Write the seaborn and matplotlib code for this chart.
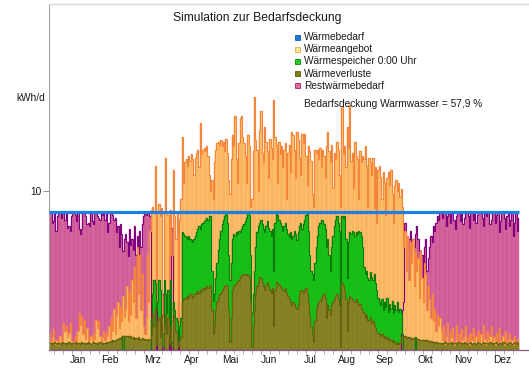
import numpy as np
import pandas as pd
import matplotlib
matplotlib.use("Agg")
import matplotlib.pyplot as plt
import seaborn as sns
from matplotlib.patches import Rectangle

# ---------------- data ----------------
months = ["Jan", "Feb", "Mrz", "Apr", "Mai", "Jun", "Jul", "Aug", "Sep", "Okt", "Nov", "Dez"]
month_label_day = [22, 47, 80, 110, 140, 170, 202, 231, 260, 292, 321, 351]
waermebedarf = 8.68  # kWh/d, constant daily demand
deckung_text = "Bedarfsdeckung Warmwasser = 57,9 %"

# Wärmeangebot (kWh/d), per month
angebot_jan = [1.1,0.5,0.8,1.3,0.4,0.6,0.3,0.5,0.9,0.4,0.6,1.7,1.2,1.5,0.8,1.1,1.7,0.6,0.4,0.5,0.9,0.3,1.2,2.3,1.6,2.1,1.0,1.9,0.7,1.4,0.5]
angebot_feb = [0.6,0.9,0.4,1.0,0.7,1.9,1.4,1.8,0.9,0.5,0.8,1.2,0.6,1.1,0.9,1.5,0.7,2.0,1.2,2.6,1.0,2.2,3.0,1.4,2.7,1.8,3.4,2.1]
angebot_mar = [2.5,4.0,1.8,3.6,2.2,4.4,3.0,5.2,2.0,6.5,3.5,6.0,2.5,4.8,1.5,1.0,2.0,6.0,3.0,7.5,8.8,9.0,8.6,11.6,3.0,8.7,9.2,8.4,8.9,2.0,8.6]
angebot_apr = [12.1,8.7,8.5,2.5,8.8,6.0,11.3,8.4,7.0,8.6,1.5,8.2,9.5,13.4,10.5,11.8,12.0,11.6,12.2,11.9,12.3,12.0,11.0,12.1,12.4,12.6,11.5,14.3,12.3,12.6]
angebot_mai = [12.7,12.5,12.8,12.2,11.0,10.0,10.7,9.5,11.8,12.6,13.0,13.1,12.9,13.2,12.8,13.1,12.5,13.3,12.4,10.7,9.8,12.0,13.5,12.8,14.7,12.0,10.5,13.0,14.6,14.7,13.4]
angebot_jun = [13.0,12.2,10.5,13.5,12.8,9.0,9.5,12.5,15.9,13.2,12.6,10.0,13.8,15.0,12.4,11.8,14.0,13.1,12.5,10.8,13.3,12.7,12.0,15.7,13.4,12.9,10.5,13.1,12.3,12.8]
angebot_jul = [11.5,12.6,13.0,9.5,12.4,12.9,11.2,13.7,13.5,12.6,10.8,13.7,13.2,12.1,11.0,13.6,13.0,13.6,12.2,10.4,12.8,12.5,11.9,9.8,9.0,12.6,12.4,12.6,12.0,12.7,11.5]
angebot_aug = [12.6,12.2,10.9,12.8,13.7,12.5,11.8,12.9,10.2,12.4,12.0,13.1,12.6,11.0,9.0,15.3,12.3,12.8,11.5,14.0,12.7,15.4,11.9,12.4,10.2,13.1,12.2,12.0,9.5,12.5,11.8]
angebot_sep = [12.2,12.0,12.8,11.6,9.0,12.1,11.8,11.0,12.1,8.9,11.5,8.0,11.3,11.6,10.9,9.5,11.2,10.5,8.5,10.8,11.2,10.4,11.3,9.8,8.0,10.3,10.7,10.0,10.5,9.6]
angebot_okt = [10.1,9.0,6.5,7.5,5.0,7.2,4.4,6.8,5.5,7.0,4.0,6.2,5.0,5.8,3.3,6.3,4.5,3.0,5.5,4.8,2.5,4.0,3.2,2.0,3.5,1.8,2.6,1.2,2.2,1.5,2.0]
angebot_nov = [1.2,0.6,1.5,0.4,0.9,1.7,0.5,1.1,0.8,1.4,0.3,0.7,1.6,0.5,1.0,0.4,1.3,0.6,0.9,1.5,0.4,0.8,0.3,1.1,0.6,1.4,0.5,0.9,0.4,1.2]
angebot_dez = [0.5,1.0,0.4,1.6,0.7,0.3,1.2,0.6,0.9,1.5,0.4,0.8,0.3,1.1,0.5,1.4,0.6,0.4,0.9,0.3,1.2,0.5,0.7,1.0,0.4,0.6,0.3,0.9,0.5,0.4,0.7]

# Restwärmebedarf (kWh/d)
rest_jan = [8.6,8.6,8.0,8.1,8.6,7.5,8.4,8.6,8.6,8.3,8.6,8.6,8.2,8.6,7.7,7.8,7.5,8.4,8.6,8.6,8.5,8.1,8.6,7.6,7.3,7.6,8.6,8.6,8.4,7.9,8.0]
rest_feb = [7.8,8.6,8.1,7.9,8.6,8.6,8.4,8.3,8.2,8.6,8.5,8.6,8.2,8.6,7.4,8.0,8.6,8.6,8.5,8.2,8.3,7.4,7.8,6.5,7.9,7.3,6.2,7.0]
rest_mar = [7.3,6.8,5.9,7.6,6.6,7.0,6.3,7.8,6.0,7.2,5.2,7.5,6.5,7.9,8.4,8.6,8.5,8.6,8.6,8.4,0,0,0,0,4.4,0,0,0,0,3.5,0]
rest_apr = [0,0,0,4.2,0,7.7,0,0,0,0,3.0,0,0,0,0,0,0,0,0,0,0,0,0,0,0,0,0,0,0,0]
rest_mai = [0] * 31
rest_jun = [0] * 30
rest_jul = [0] * 31
rest_aug = [0] * 31
rest_sep = [0] * 30
rest_okt = [1.0,2.5,3.0,8.0,7.2,6.0,7.0,7.5,6.8,7.0,6.5,7.3,7.8,7.0,6.2,5.5,6.0,4.4,6.5,7.0,5.0,5.8,6.5,7.2,6.8,7.8,7.5,8.0,8.4,8.2,8.6]
rest_nov = [8.6,8.3,8.6,8.6,7.8,8.4,8.6,8.0,8.6,8.6,8.2,7.6,8.4,8.6,8.6,8.1,8.6,7.9,8.3,8.6,8.6,8.4,7.7,8.6,8.6,8.2,8.6,8.0,8.5,8.6]
rest_dez = [8.6,8.6,8.3,7.8,8.6,8.4,8.6,8.6,7.9,8.2,8.6,8.6,8.0,8.5,8.6,7.4,8.1,8.6,8.6,8.3,7.6,8.4,8.6,7.8,8.2,8.6,7.2,8.0,8.6,7.5,8.3]

# Wärmespeicher 0:00 Uhr (kWh)
speicher_jan = [0] * 31
speicher_feb = [0]*26 + [0.9, 0]
speicher_mar = [0]*20 + [2.0,3.5,4.4,4.2,2.5,3.0,4.4,3.8,1.5,1.0,4.4]
speicher_apr = [3.5,2.3,3.8,1.0,4.4,0.5,3.0,2.5,2.0,1.8,0.5,1.5,2.0,7.4,7.3,7.2,7.1,7.0,7.2,7.0,6.9,6.8,7.0,7.2,7.4,7.6,7.8,7.6,7.9,8.0]
speicher_mai = [8.1,8.2,8.3,8.2,8.4,8.4,5.0,3.1,3.5,4.5,5.5,6.3,7.0,7.5,7.9,8.2,8.4,8.6,8.0,6.0,4.4,5.5,7.0,7.3,7.2,7.4,7.3,7.5,7.4,7.6,7.8]
speicher_jun = [7.9,8.1,8.3,8.6,8.5,6.0,2.3,3.5,5.0,6.5,7.4,7.8,8.0,8.2,7.9,7.6,7.4,7.8,8.1,7.7,7.5,7.2,7.6,5.0,8.0,8.7,8.5,8.2,8.0,7.8]
speicher_jul = [7.5,7.8,8.0,7.6,7.3,7.1,7.4,7.0,7.2,7.5,7.3,6.9,7.4,7.8,8.0,7.6,7.9,8.2,8.5,8.7,7.5,6.0,5.0,4.8,4.4,5.5,6.5,7.2,7.8,8.0,8.2]
speicher_aug = [8.2,7.9,7.6,6.5,7.0,6.0,5.0,6.5,7.2,7.8,8.2,8.4,8.0,7.5,2.3,8.4,8.3,8.4,7.0,4.5,6.8,7.4,7.3,7.5,7.4,7.2,7.4,7.3,7.5,7.4,7.2]
speicher_sep = [6.5,5.2,4.8,5.0,4.5,4.4,4.9,4.6,4.4,4.8,4.2,3.8,3.3,3.0,2.8,3.2,2.5,3.0,2.7,3.3,2.4,2.9,2.6,3.1,2.3,2.8,2.5,3.0,2.4,2.6]
speicher_okt = [2.3,1.0,0,0,0,0,0,0,0,0,0,0.8] + [0]*19
speicher_nov = [0] * 30
speicher_dez = [0] * 31

# Wärmeverluste (kWh/d)
verluste_jan = [0.45,0.45,0.4,0.45,0.5,0.45,0.4,0.45,0.45,0.4,0.5,0.45,0.45,0.4,0.45,0.5,0.45,0.4,0.45,0.45,0.5,0.4,0.45,0.45,0.4,0.5,0.45,0.45,0.4,0.45,0.5]
verluste_feb = [0.45,0.4,0.45,0.5,0.45,0.45,0.4,0.45,0.5,0.45,0.4,0.45,0.45,0.5,0.45,0.5,0.55,0.5,0.6,0.55,0.65,0.6,0.7,0.75,0.7,0.8,0.85,0.8]
verluste_mar = [0.85,0.9,0.8,0.85,0.9,0.75,0.8,0.7,0.75,0.7,0.8,0.65,0.7,0.75,0.6,0.7,0.65,0.6,0.7,0.65,1.0,2.3,1.5,2.7,0.3,1.8,2.0,0.8,2.2,0.2,1.6]
verluste_apr = [2.3,1.0,2.0,0.4,1.5,0.2,2.2,1.8,1.2,0.5,0.2,0.6,0.8,3.1,3.2,3.3,3.2,3.4,3.3,3.5,3.4,3.3,3.5,3.6,3.5,3.7,3.6,3.8,3.7,3.9]
verluste_mai = [3.8,3.9,4.0,3.9,4.0,4.0,2.5,1.0,1.5,2.5,3.0,3.3,3.5,3.6,3.8,3.9,4.0,4.1,4.0,2.5,0.5,2.0,3.8,4.0,4.1,4.2,4.3,4.4,4.6,4.7,4.7]
verluste_jun = [4.8,4.7,4.8,4.7,4.6,3.0,0.2,1.5,2.5,3.5,4.0,4.3,4.6,4.5,4.2,4.0,3.8,4.1,4.3,4.0,3.8,3.6,3.9,1.5,3.8,4.3,4.2,4.1,4.0,3.9]
verluste_jul = [3.8,3.7,3.9,3.6,3.4,3.2,3.0,2.8,3.0,2.9,2.7,2.6,2.8,3.5,3.8,3.7,3.6,3.8,3.9,3.5,3.0,2.2,1.5,1.0,0.5,1.8,2.5,2.8,3.0,3.1,3.3]
verluste_aug = [3.4,3.5,3.3,2.0,2.8,2.5,2.2,2.8,3.0,3.2,3.4,3.5,3.2,2.8,0.2,4.2,4.0,3.8,3.2,1.2,3.0,3.4,3.3,3.2,3.1,3.0,3.2,3.0,2.8,2.9,2.6]
verluste_sep = [2.5,2.3,2.0,2.2,1.8,1.9,2.1,1.7,1.8,1.6,1.4,1.2,1.1,1.0,0.9,1.0,0.8,0.9,0.7,0.8,0.6,0.7,0.6,0.5,0.6,0.5,0.4,0.5,0.4,0.45]
verluste_okt = [0.9,0.85,0.8,0.85,0.8,0.75,0.8,0.75,0.7,0.75,0.7,0.7,0.65,0.7,0.65,0.6,0.65,0.6,0.6,0.55,0.6,0.55,0.5,0.55,0.5,0.5,0.45,0.5,0.45,0.45,0.45]
verluste_nov = [0.45,0.4,0.45,0.5,0.45,0.4,0.45,0.45,0.5,0.4,0.45,0.45,0.4,0.5,0.45,0.45,0.4,0.45,0.5,0.45,0.4,0.45,0.45,0.5,0.4,0.45,0.45,0.4,0.5,0.45]
verluste_dez = [0.45,0.4,0.45,0.5,0.45,0.45,0.4,0.45,0.5,0.45,0.4,0.45,0.45,0.5,0.4,0.45,0.45,0.4,0.5,0.45,0.45,0.4,0.45,0.5,0.45,0.4,0.45,0.45,0.5,0.4,0.45]

angebot = (angebot_jan + angebot_feb + angebot_mar + angebot_apr + angebot_mai + angebot_jun
           + angebot_jul + angebot_aug + angebot_sep + angebot_okt + angebot_nov + angebot_dez)
rest = (rest_jan + rest_feb + rest_mar + rest_apr + rest_mai + rest_jun
        + rest_jul + rest_aug + rest_sep + rest_okt + rest_nov + rest_dez)
speicher = (speicher_jan + speicher_feb + speicher_mar + speicher_apr + speicher_mai + speicher_jun
            + speicher_jul + speicher_aug + speicher_sep + speicher_okt + speicher_nov + speicher_dez)
verluste = (verluste_jan + verluste_feb + verluste_mar + verluste_apr + verluste_mai + verluste_jun
            + verluste_jul + verluste_aug + verluste_sep + verluste_okt + verluste_nov + verluste_dez)

days = np.arange(len(angebot))
df = pd.DataFrame({"day": days, "angebot": angebot, "rest": rest,
                   "speicher": speicher, "verluste": verluste})

# ---------------- style ----------------
sns.set_style("white")
plt.rcParams["font.family"] = ["Liberation Sans", "DejaVu Sans"]
TXT = "#1a1a1a"

W, H = 529, 371
fig = plt.figure(figsize=(W / 100, H / 100), dpi=100)
ax = fig.add_axes([49 / W, (H - 350) / H, (528 - 49) / W, (350 - 4) / H])

# (column, fill, bar stripe colour, outline colour)
series = [
    ("rest", "#C9508C", "#DE78AE", "#800080"),
    ("angebot", "#FFC870", "#F9A457", "#F5843C"),
    ("speicher", "#10C810", "#22B022", "#0A7A0A"),
    ("verluste", "#8A8628", "#7E7A20", "#66620E"),
]
for col, fill, stripe, edge in series:
    sns.barplot(data=df, x="day", y=col, native_scale=True, color=fill, saturation=1,
                width=1.0, linewidth=0.3, edgecolor=stripe, errorbar=None, ax=ax)
    ax.step(df["day"], df[col], where="mid", color=edge, lw=0.8, solid_joinstyle="miter")

ax.hlines(waermebedarf, -0.5, len(days) - 0.5, color="#1C7FE2", lw=2.3, zorder=5)

ax.set_xlim(-0.5, -0.5 + (528 - 49) / 1.288)
ax.set_ylim(0, (350 - 4) / 15.9)

ax.set_xticks(month_label_day)
ax.set_xticklabels(months)
ax.set_xticks(np.arange(3, len(days), 7), minor=True)
ax.tick_params(axis="x", which="both", bottom=True)
ax.tick_params(axis="x", which="major", length=0, pad=3.5, labelsize=7.3, labelcolor=TXT)
ax.tick_params(axis="x", which="minor", length=3, width=0.6, color="#A0A0A0", direction="out")
ax.set_yticks([10])
ax.set_yticklabels(["10"])
ax.tick_params(axis="y", left=True, length=4, width=0.7, color="#909090", pad=1.5,
               labelsize=7.3, labelcolor=TXT)
ax.set_xlabel("")
ax.set_ylabel("")

ax.spines["left"].set_color("#A0A0A0")
ax.spines["left"].set_linewidth(0.8)
ax.spines["bottom"].set_color("#8A5A8A")
ax.spines["bottom"].set_linewidth(0.9)
ax.spines["top"].set_color("#D8D8D8")
ax.spines["top"].set_linewidth(1.0)
ax.spines["right"].set_visible(False)

# texts
fig.text(257 / W, 1 - 18 / H, "Simulation zur Bedarfsdeckung", ha="center", va="center",
         fontsize=8.7, color=TXT)
fig.text(30.5 / W, 1 - 98 / H, "kWh/d", ha="center", va="center", fontsize=7.3, color=TXT)

legend_items = [
    ("Wärmebedarf", "#1878DC", "#0D5CB0"),
    ("Wärmeangebot", "#FFE890", "#E8A848"),
    ("Wärmespeicher 0:00 Uhr", "#22D022", "#0A8A0A"),
    ("Wärmeverluste", "#808018", "#5C5C08"),
    ("Restwärmebedarf", "#E8689E", "#A02868"),
]
for i, (lab, fc, ec) in enumerate(legend_items):
    yc = 37.3 + i * 12.1
    fig.add_artist(Rectangle((294.5 / W, 1 - (yc + 2.5) / H), 5 / W, 5 / H,
                             transform=fig.transFigure, facecolor=fc, edgecolor=ec, lw=0.6))
    fig.text(304 / W, 1 - yc / H, lab, ha="left", va="center", fontsize=7.3, color=TXT)

fig.text(304 / W, 1 - 104 / H, deckung_text, ha="left", va="center", fontsize=7.3, color=TXT)

fig.savefig("out.png", dpi=100)
